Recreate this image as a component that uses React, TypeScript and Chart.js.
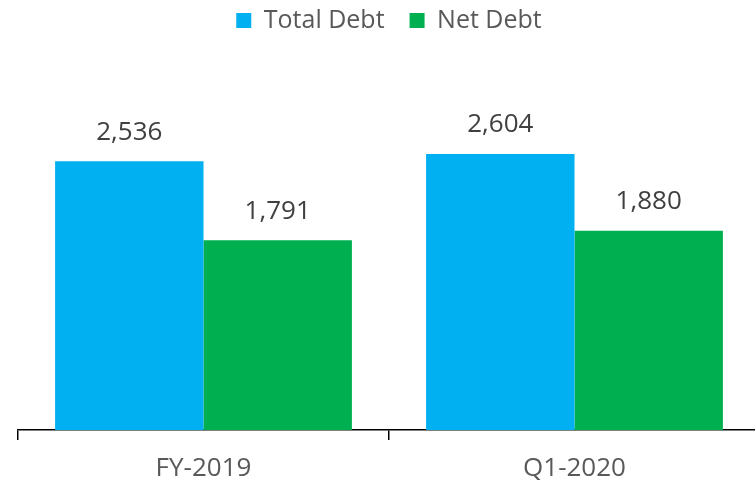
import React, { useEffect, useRef } from "react";
import { Chart, registerables } from "chart.js";

Chart.register(...registerables);

const categories = ["FY-2019", "Q1-2020"];
const seriesNames = ["Total Debt", "Net Debt"];
const totalDebt = [2536, 2604];
const netDebt = [1791, 1880];
const yMax = 3000;

const FONT = '"Open Sans", "Liberation Sans", sans-serif';

const valueLabels = {
  id: "valueLabels",
  afterDatasetsDraw(chart: any) {
    const ctx = chart.ctx;
    ctx.save();
    ctx.font = `26px ${FONT}`;
    ctx.fillStyle = "#404040";
    ctx.textAlign = "center";
    ctx.textBaseline = "middle";
    chart.data.datasets.forEach((ds: any, i: number) => {
      const meta = chart.getDatasetMeta(i);
      meta.data.forEach((el: any, j: number) => {
        ctx.fillText(Number(ds.data[j]).toLocaleString("en-US"), el.x, el.y - 29);
      });
    });
    ctx.restore();
  },
};

const legendHeight = {
  id: "legendHeight",
  beforeInit(chart: any) {
    const legend = chart.legend;
    if (!legend) return;
    const orig = legend.fit;
    legend.fit = function () {
      orig.call(this);
      this.height = 129;
    };
  },
};

export default function App() {
  const ref = useRef<HTMLCanvasElement | null>(null);
  useEffect(() => {
    if (!ref.current) return;
    const chart = new Chart(ref.current, {
      type: "bar",
      data: {
        labels: categories,
        datasets: [
          {
            label: seriesNames[0],
            data: totalDebt,
            backgroundColor: "#00B0F0",
            categoryPercentage: 0.8,
            barPercentage: 1,
          },
          {
            label: seriesNames[1],
            data: netDebt,
            backgroundColor: "#00B050",
            categoryPercentage: 0.8,
            barPercentage: 1,
          },
        ],
      },
      options: {
        responsive: false,
        animation: false,
        layout: { padding: { left: 18, right: 0, top: -17, bottom: 0 } },
        plugins: {
          legend: {
            display: true,
            position: "top",
            labels: {
              boxWidth: 15,
              boxHeight: 15,
              padding: 25,
              color: "#595959",
              font: { family: FONT, size: 25 },
            },
          },
          tooltip: { enabled: false },
        },
        scales: {
          x: {
            grid: {
              display: true,
              drawOnChartArea: false,
              drawTicks: true,
              tickLength: 10,
              color: "#000",
              lineWidth: 1.5,
              offset: true,
            },
            border: { display: true, color: "#000", width: 1.5 },
            ticks: {
              color: "#595959",
              font: { family: FONT, size: 26 },
              padding: 13,
            },
            afterFit(scale: any) {
              scale.height = 53;
            },
          },
          y: {
            display: false,
            min: 0,
            max: yMax,
          },
        },
      },
      plugins: [valueLabels, legendHeight],
    });
    return () => chart.destroy();
  }, []);
  return (
    <div style={{ position: "fixed", left: 0, top: 0, width: 760, height: 483, background: "#fff" }}>
      <canvas ref={ref} width={760} height={483} />
    </div>
  );
}
